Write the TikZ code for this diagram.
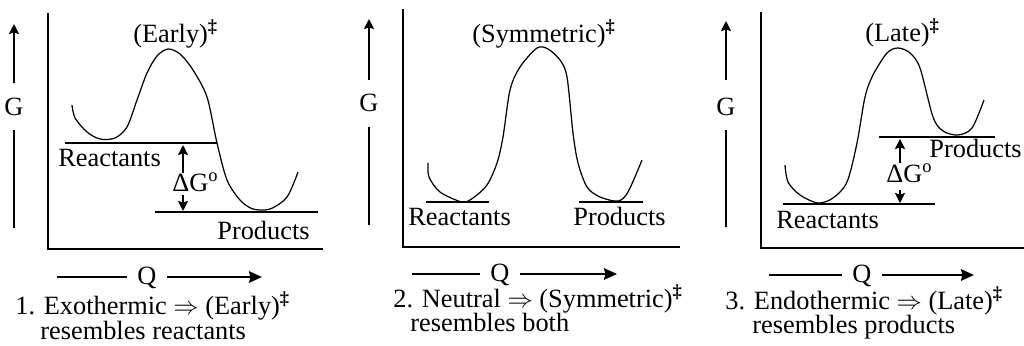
\documentclass[tikz,border=0pt]{standalone}
\usepackage{fontspec}
\setmainfont{Liberation Serif}
\usetikzlibrary{arrows.meta}

\tikzset{
  lbl/.style={font=\fontsize{15pt}{18pt}\selectfont, inner sep=0pt},
  axis/.style={line width=1.5pt},
  level/.style={line width=1.1pt},
  curve/.style={line width=0.7pt, smooth, tension=0.5},
  bigtip/.style={line width=1.2pt, -{Stealth[length=2.6mm, width=2.3mm, inset=0.3mm]}},
  smalltip/.style={line width=1.1pt, -{Stealth[length=2mm, width=2mm, inset=0.3mm]}}
}

\newcommand{\tsdag}{\textsuperscript{\textbf{‡}}}

\begin{document}
\begin{tikzpicture}[x=0.02cm, y=-0.02cm]
  \useasboundingbox (0,0) rectangle (1024,345);

  % ---------- 1. exothermic ----------
  % osy
  \draw[axis] (48,13) -- (48,249) -- (323,249);
  \node[lbl] (g1) at (14,107) {G};
  \draw[smalltip] (14,228) -- (14,130) (14,83) -- (14,24);
  \node[lbl] (q1) at (147,278) {Q};
  \draw[line width=1.2pt] (57,277) -- ([xshift=-6pt]q1.west |- 0,277);
  \draw[bigtip] ([xshift=6pt]q1.east |- 0,277) -- (262,277);

  % krivka
  \draw[curve] plot coordinates {(72,105) (75,118) (87,132) (100,139) (115,138)
    (127,127) (137,100) (147,73) (157,56) (168,49) (180,54) (193,70) (207,97)
    (217,143) (227,180) (240,200) (253,209) (270,209) (287,197) (298,172)};

  % hladiny
  \draw[level] (65,143) -- (217,143);
  \draw[level] (155,212) -- (318,212);
  \node[lbl, anchor=base west] (r1) at (58,166) {Reactants};
  \node[lbl, anchor=base west] (p1) at (217,239) {Products};
  \node[lbl, anchor=base west] (ts1) at (133,42) {(Early)\tsdag};

  % dG
  \node[lbl, anchor=base west] (dg1) at (172,191) {ΔG\textsuperscript{o}};
  \draw[smalltip] (183,173) -- (183,145);
  \draw[smalltip] (183,195) -- (183,211);

  \node[lbl, anchor=base west] (c1a) at (15,314) {1. Exothermic $\Rightarrow$ (Early)\tsdag};
  \node[lbl, anchor=base west] (c1b) at (40,339) {resembles reactants};

  % ---------- 2. neutral ----------
  \draw[axis] (403,9) -- (403,247) -- (680,247);
  \node[lbl] (g2) at (369,103) {G};
  \draw[smalltip] (369,225) -- (369,127) (369,80) -- (369,19);
  \node[lbl] (q2) at (500,275) {Q};
  \draw[line width=1.2pt] (412,274) -- ([xshift=-6pt]q2.west |- 0,274);
  \draw[bigtip] ([xshift=6pt]q2.east |- 0,274) -- (617,274);

  \draw[curve] plot coordinates {(428,163) (429,177) (440,192) (462,202) (473,198)
    (487,185) (497,163) (503,137) (510,90) (520,67) (537,48) (548,49) (560,60)
    (567,77) (573,133) (578,163) (587,187) (600,197) (618,201) (628,192) (642,160)};

  \draw[level] (426,202) -- (489,202);
  \draw[level] (579,202) -- (643,202);
  \node[lbl, anchor=base west] (r2) at (408,225) {Reactants};
  \node[lbl, anchor=base west] (p2) at (573,225) {Products};
  \node[lbl, anchor=base west] (ts2) at (472,42) {(Symmetric)\tsdag};

  \node[lbl, anchor=base west] (c2a) at (393,307) {2. Neutral $\Rightarrow$ (Symmetric)\tsdag};
  \node[lbl, anchor=base west] (c2b) at (410,331) {resembles both};

  % ---------- 3. endothermic ----------
  \draw[axis] (761,12) -- (761,248) -- (1024,248);
  \node[lbl] (g3) at (726,107) {G};
  \draw[smalltip] (726,227) -- (726,130) (726,80) -- (726,21);
  \node[lbl] (q3) at (862,276) {Q};
  \draw[line width=1.2pt] (769,275) -- ([xshift=-6pt]q3.west |- 0,275);
  \draw[bigtip] ([xshift=6pt]q3.east |- 0,275) -- (974,275);

  \draw[curve] plot coordinates {(785,165) (788,182) (800,195) (818,203) (833,198)
    (847,182) (857,143) (865,97) (873,75) (887,53) (898,48) (910,53) (920,68)
    (933,117) (943,131) (958,135) (972,128) (984,100)};

  \draw[level] (783,204) -- (935,204);
  \draw[level] (879,137) -- (995,137);
  \node[lbl, anchor=base east] (p3) at (1022,157) {Products};
  \node[lbl, anchor=base west] (r3) at (776,228) {Reactants};
  \node[lbl, anchor=base west] (ts3) at (865,41) {(Late)\tsdag};

  \node[lbl, anchor=base west] (dg3) at (886,182) {ΔG\textsuperscript{o}};
  \draw[smalltip] (900,163) -- (900,139);
  \draw[smalltip] (900,190) -- (900,203);

  \node[lbl, anchor=base west] (c3a) at (725,309) {3. Endothermic $\Rightarrow$ (Late)\tsdag};
  \node[lbl, anchor=base west] (c3b) at (752,333) {resembles products};
\end{tikzpicture}
\end{document}
